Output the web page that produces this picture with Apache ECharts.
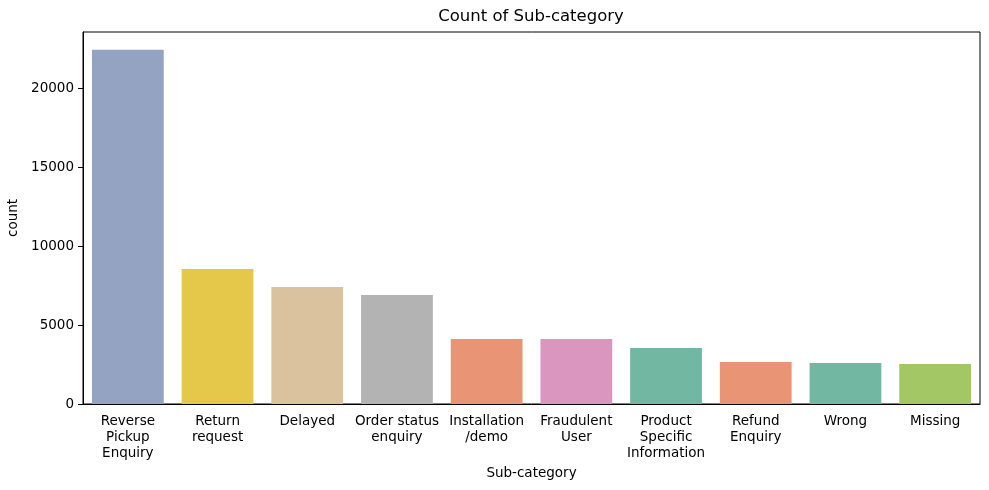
<!DOCTYPE html>
<html>
<head>
<meta charset="utf-8">
<script src="https://cdn.jsdelivr.net/npm/echarts@6/dist/echarts.min.js"></script>
<style>html,body{margin:0;padding:0;background:#fff}#c{width:989px;height:490px}</style>
</head>
<body>
<div id="c"></div>
<script>
const categories = ["Reverse\nPickup\nEnquiry", "Return\nrequest", "Delayed", "Order status\nenquiry", "Installation\n/demo", "Fraudulent\nUser", "Product\nSpecific\nInformation", "Refund\nEnquiry", "Wrong", "Missing"];
const counts = [22420, 8545, 7405, 6900, 4115, 4110, 3545, 2660, 2595, 2530];
const barColors = ["#95a3c3", "#e5c849", "#dbc29e", "#b3b3b3", "#e99575", "#db96c0", "#71b7a1", "#e99575", "#71b7a1", "#a2c764"];
const yTicks = [0, 5000, 10000, 15000, 20000];
const titleText = "Count of Sub-category";
const xName = "Sub-category";
const yName = "count";

const font = "DejaVu Sans";
const chart = echarts.init(document.getElementById('c'));
chart.setOption({
  animation: false,
  backgroundColor: '#fff',
  graphic: [{
    type: 'text', x: 531, y: 17,
    style: { text: titleText, font: '16.5px "DejaVu Sans"', fill: '#000', textAlign: 'center', textVerticalAlign: 'middle' }
  }],
  grid: { left: 83, right: 9, top: 32, bottom: 86, containLabel: false, outerBoundsMode: 'none', show: true, borderColor: '#000', borderWidth: 1, backgroundColor: 'transparent' },
  xAxis: {
    type: 'category',
    data: categories,
    name: xName, nameLocation: 'middle', nameGap: 62,
    nameTextStyle: { fontFamily: font, fontSize: 13.5, color: '#000' },
    axisLine: { lineStyle: { color: '#000', width: 1 } },
    axisTick: { alignWithLabel: true, length: 5, lineStyle: { color: '#000' } },
    axisLabel: { interval: 0, margin: 9, fontFamily: font, fontSize: 13.5, color: '#000', lineHeight: 16 },
    splitLine: { show: false }
  },
  yAxis: {
    type: 'value', min: 0, max: 23545, interval: 5000,
    name: yName, nameLocation: 'middle', nameGap: 48,
    nameTextStyle: { fontFamily: font, fontSize: 13.5, color: '#000' },
    axisLine: { show: true, lineStyle: { color: '#000', width: 1 } },
    axisTick: { show: true, length: 5, lineStyle: { color: '#000' }, customValues: yTicks },
    axisLabel: { margin: 9, fontFamily: font, fontSize: 13.5, color: '#000', customValues: yTicks, formatter: v => String(v) },
    splitLine: { show: false }
  },
  series: [{
    type: 'bar',
    data: counts.map((v, i) => ({ value: v, itemStyle: { color: barColors[i] } })),
    barCategoryGap: '20%'
  }]
});
</script>
</body>
</html>
